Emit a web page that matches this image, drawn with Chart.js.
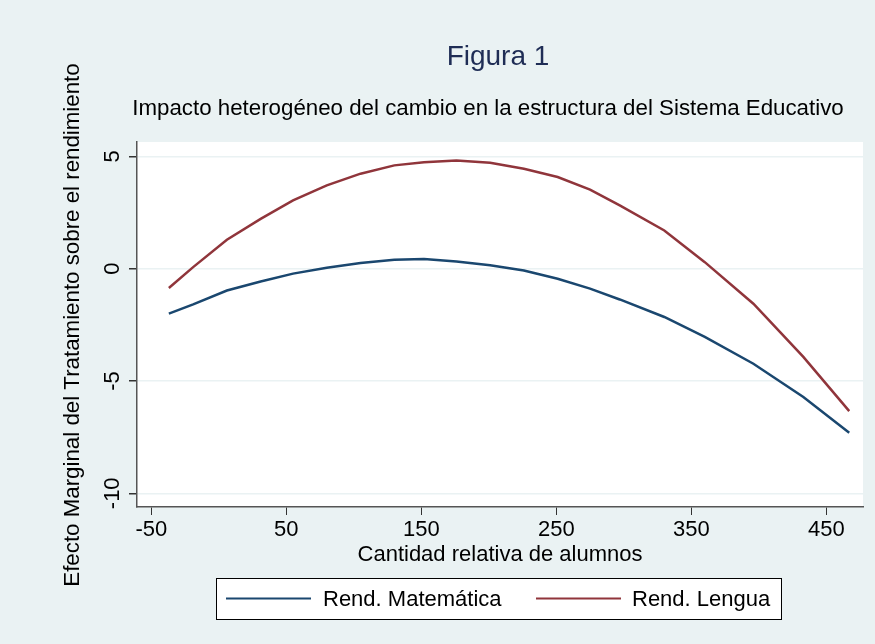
<!DOCTYPE html>
<html>
<head>
<meta charset="utf-8">
<script src="https://cdn.jsdelivr.net/npm/chart.js@4.4.0/dist/chart.umd.min.js"></script>
<style>
  html, body { margin: 0; padding: 0; background: #eaf2f3; }
  #wrap { width: 875px; height: 644px; position: relative; }
</style>
</head>
<body>
<div id="wrap"><canvas id="c" width="875" height="644"></canvas></div>
<script>
// ---- Data ----
const cantidad = [-37, -19, 6, 31, 55, 80, 105, 130, 152, 176, 201, 226, 251, 275, 297, 330, 360, 396, 433, 467];
const rendMatematica = [-2.00, -1.59, -0.97, -0.57, -0.22, 0.04, 0.25, 0.40, 0.43, 0.32, 0.15, -0.08, -0.45, -0.89, -1.37, -2.15, -3.04, -4.23, -5.71, -7.30];
const rendLengua = [-0.86, 0.07, 1.29, 2.22, 3.04, 3.71, 4.23, 4.60, 4.74, 4.82, 4.72, 4.45, 4.08, 3.52, 2.82, 1.70, 0.29, -1.56, -3.93, -6.34];
const xTicks = [-50, 50, 150, 250, 350, 450];
const yTicks = [-10, -5, 0, 5];
const seriesNames = ["Rend. Matemática", "Rend. Lengua"];
const titleText = "Figura 1";
const subtitleText = "Impacto heterogéneo del cambio en la estructura del Sistema Educativo";
const xTitle = "Cantidad relativa de alumnos";
const yTitle = "Efecto Marginal del Tratamiento sobre el rendimiento";

const FONT = '"Liberation Sans", Arial, sans-serif';
const BG = '#eaf2f3';
const colMath = '#1a476f';
const colLeng = '#90353b';

const toPts = (ys) => cantidad.map((x, i) => ({ x: x, y: ys[i] }));

const decor = {
  id: 'decor',
  beforeDraw(chart) {
    const ctx = chart.ctx, a = chart.chartArea;
    ctx.save();
    ctx.fillStyle = BG;
    ctx.fillRect(0, 0, chart.width, chart.height);
    ctx.fillStyle = '#ffffff';
    ctx.fillRect(a.left, a.top, a.right - a.left, a.bottom - a.top);
    ctx.restore();
  },
  afterDraw(chart) {
    const ctx = chart.ctx;
    const ys = chart.scales.y;
    ctx.save();
    // Title
    ctx.fillStyle = '#1f2d55';
    ctx.textAlign = 'center';
    ctx.textBaseline = 'alphabetic';
    ctx.font = '28px ' + FONT;
    ctx.fillText(titleText, 498, 65);
    // Subtitle
    ctx.fillStyle = '#000000';
    ctx.font = '22.3px ' + FONT;
    ctx.fillText(subtitleText, 488, 115);
    // X title
    ctx.font = '22px ' + FONT;
    ctx.fillText(xTitle, 500, 561);
    // Y title (rotated)
    ctx.save();
    ctx.translate(79, 325);
    ctx.rotate(-Math.PI / 2);
    ctx.font = '22.3px ' + FONT;
    ctx.fillText(yTitle, 0, 0);
    ctx.restore();
    // Y tick labels (rotated)
    ctx.font = '22px ' + FONT;
    yTicks.forEach(v => {
      const py = ys.getPixelForValue(v);
      ctx.save();
      ctx.translate(119, py);
      ctx.rotate(-Math.PI / 2);
      ctx.textAlign = 'center';
      ctx.fillText(String(v), 0, 0);
      ctx.restore();
    });
    // Legend box
    const lx = 216, ly = 578, lw = 565, lh = 41;
    ctx.fillStyle = '#ffffff';
    ctx.fillRect(lx, ly, lw, lh);
    ctx.strokeStyle = '#000000';
    ctx.lineWidth = 1;
    ctx.strokeRect(lx + 0.5, ly + 0.5, lw, lh);
    const items = chart.data.datasets;
    const keyX = [226, 536], txtX = [323, 632];
    ctx.font = '22px ' + FONT;
    ctx.textAlign = 'left';
    ctx.textBaseline = 'middle';
    items.forEach((ds, i) => {
      ctx.strokeStyle = ds.borderColor;
      ctx.lineWidth = 2;
      ctx.beginPath();
      ctx.moveTo(keyX[i], ly + lh / 2);
      ctx.lineTo(keyX[i] + 85, ly + lh / 2);
      ctx.stroke();
      ctx.fillStyle = '#000000';
      ctx.fillText(ds.label, txtX[i], ly + lh / 2 + 1);
    });
    ctx.restore();
  }
};

new Chart(document.getElementById('c'), {
  type: 'line',
  data: {
    datasets: [
      { label: seriesNames[0], data: toPts(rendMatematica), borderColor: colMath, borderWidth: 2.5, pointRadius: 0, tension: 0, fill: false },
      { label: seriesNames[1], data: toPts(rendLengua), borderColor: colLeng, borderWidth: 2.5, pointRadius: 0, tension: 0, fill: false }
    ]
  },
  options: {
    responsive: false,
    animation: false,
    devicePixelRatio: 1,
    layout: { padding: { left: 0, top: 142, right: 12, bottom: 0 } },
    plugins: { legend: { display: false }, title: { display: false }, tooltip: { enabled: false } },
    scales: {
      x: {
        type: 'linear',
        min: -60.6, max: 477.2,
        afterFit(s) { s.height = 137; },
        afterBuildTicks(s) { s.ticks = xTicks.map(v => ({ value: v })); },
        border: { display: true, color: '#555555', width: 1.5 },
        grid: { display: true, drawOnChartArea: false, drawTicks: true, tickLength: 8, tickColor: '#333333', lineWidth: 1 },
        ticks: { color: '#000000', font: { family: FONT, size: 22 }, padding: 2, maxRotation: 0, autoSkip: false }
      },
      y: {
        type: 'linear',
        min: -10.61, max: 5.64,
        afterFit(s) { s.width = 137; },
        afterBuildTicks(s) { s.ticks = yTicks.map(v => ({ value: v })); },
        border: { display: true, color: '#555555', width: 1.5 },
        grid: { display: true, drawOnChartArea: true, color: '#eaf2f3', lineWidth: 1.5, drawTicks: true, tickLength: 8, tickColor: '#333333' },
        ticks: { display: false }
      }
    }
  },
  plugins: [decor]
});
</script>
</body>
</html>
